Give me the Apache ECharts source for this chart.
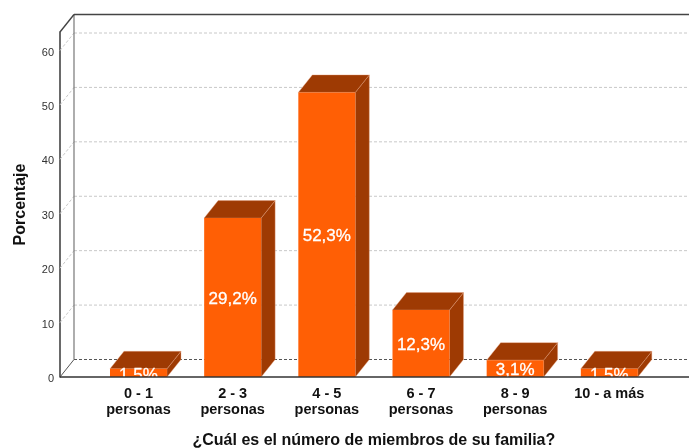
<!DOCTYPE html>
<html><head><meta charset="utf-8">
<style>html,body{margin:0;padding:0;background:#fff}#c{width:689px;height:448px}</style>
<script src="https://cdn.jsdelivr.net/npm/echarts@6/dist/echarts.min.js"></script>
</head><body><div id="c"></div>
<script>
const categories = ['0 - 1\npersonas','2 - 3\npersonas','4 - 5\npersonas','6 - 7\npersonas','8 - 9\npersonas','10 - a más'];
const percentages = [1.5, 29.2, 52.3, 12.3, 3.1, 1.5];
const tickValues = [0, 10, 20, 30, 40, 50, 60];
const xTitle = '¿Cuál es el número de miembros de su familia?';
const yTitle = 'Porcentaje';

const FONT = '"Liberation Sans", Arial, sans-serif';
const DX = 14, DY = -17.5;               // depth of the 3D projection
const G = {left: 91.4, width: 565, top: 32, height: 345};
const FRONT_LEFT = 60, RIGHT = 689, Y_MAX = 63.4;
const FRONT = '#ff5f05', SIDE = '#9e3a03', EDGE = '#e9a583';

function renderWall(params, api) {
  const v = api.value(0);
  const y = api.coord([0, v])[1];
  const dark = v === 0;
  const dash = {stroke: dark ? '#555' : '#c8c8c8', lineWidth: 1, lineDash: [3, 2]};
  return {type: 'group', children: [
    {type: 'line', shape: {x1: FRONT_LEFT + DX, y1: y + DY, x2: RIGHT, y2: y + DY}, style: dash},
    dark ? {type: 'group'} : {type: 'line', shape: {x1: FRONT_LEFT, y1: y, x2: FRONT_LEFT + DX, y2: y + DY}, style: dash}
  ]};
}
function renderFrame(params, api) {
  const y0 = api.coord([0, 0])[1], yT = api.coord([0, Y_MAX])[1];
  const gray = {stroke: '#777', lineWidth: 1.2};
  const dark = {stroke: '#444', lineWidth: 1.4};
  return {type: 'group', children: [
    {type: 'line', shape: {x1: FRONT_LEFT + DX, y1: yT + DY, x2: FRONT_LEFT + DX, y2: y0 + DY}, style: gray},
    {type: 'line', shape: {x1: FRONT_LEFT, y1: y0, x2: FRONT_LEFT + DX, y2: y0 + DY}, style: {stroke: '#555', lineWidth: 1}},
    {type: 'line', shape: {x1: FRONT_LEFT, y1: yT, x2: FRONT_LEFT + DX, y2: yT + DY}, style: dark},
    {type: 'line', shape: {x1: FRONT_LEFT + DX, y1: yT + DY, x2: RIGHT, y2: yT + DY}, style: dark}
  ]};
}
function renderBar(params, api) {
  const c = api.value(0), v = api.value(1);
  const [x, yTop] = api.coord([c, v]);
  const y0 = api.coord([c, 0])[1];
  const w = api.size([1, 0])[0] * 0.605;
  const l = x - w / 2, r = x + w / 2;
  const label = v.toFixed(1).replace('.', ',') + '%';
  return {type: 'group', children: [
    {type: 'polygon', shape: {points: [[r, yTop], [r + DX, yTop + DY], [r + DX, y0 + DY], [r, y0]]}, style: {fill: SIDE, stroke: EDGE, lineWidth: 0.4}},
    {type: 'polygon', shape: {points: [[l, yTop], [l + DX, yTop + DY], [r + DX, yTop + DY], [r, yTop]]}, style: {fill: SIDE, stroke: EDGE, lineWidth: 0.4}},
    {type: 'rect', shape: {x: l, y: yTop, width: w, height: y0 - yTop}, style: {fill: FRONT}},
    {type: 'text', style: {x: x, y: (yTop + y0) / 2 + 2, text: label, align: 'center', verticalAlign: 'middle',
      fill: '#fff', font: '17px ' + FONT, stroke: '#fff', lineWidth: 0.3}}
  ]};
}

const chart = echarts.init(document.getElementById('c'), null, {renderer: 'canvas'});
chart.setOption({
  animation: false,
  backgroundColor: '#fff',
  grid: {left: G.left, top: G.top, width: G.width, height: G.height, outerBoundsMode: 'none', containLabel: false},
  xAxis: {
    type: 'category', data: categories,
    axisLine: {show: false}, axisTick: {show: false},
    axisLabel: {color: '#111', fontFamily: FONT, fontWeight: 'bold', fontSize: 14.5, lineHeight: 16, margin: 9, interval: 0},
    name: xTitle, nameLocation: 'middle', nameGap: 56,
    nameTextStyle: {color: '#111', fontFamily: FONT, fontWeight: 'bold', fontSize: 16}
  },
  yAxis: {
    type: 'value', min: 0, max: Y_MAX, interval: 10, offset: G.left - FRONT_LEFT,
    axisLine: {show: true, onZero: false, lineStyle: {color: '#444', width: 1.6}},
    axisTick: {show: false}, splitLine: {show: false},
    axisLabel: {color: '#333', fontFamily: FONT, fontSize: 11, margin: 6, showMaxLabel: false, verticalAlign: 'top', lineHeight: 4,
      formatter: v => tickValues.includes(v) ? String(v) : ''},
    name: yTitle, nameLocation: 'middle', nameGap: 31,
    nameTextStyle: {color: '#111', fontFamily: FONT, fontWeight: 'bold', fontSize: 16}
  },
  series: [
    {type: 'custom', name: 'wall', clip: false, silent: true, z: 1, data: tickValues.map(v => [v]), encode: {y: 0}, renderItem: renderWall},
    {type: 'custom', name: 'frame', clip: false, silent: true, z: 2, data: [[0]], renderItem: renderFrame},
    {type: 'custom', name: 'Porcentaje', clip: true, z: 3, data: percentages.map((v, i) => [i, v]), encode: {x: 0, y: 1}, renderItem: renderBar},
    {type: 'custom', name: 'baseline', clip: false, silent: true, z: 4, data: [[0]], renderItem: (p, api) => {
      const y0 = api.coord([0, 0])[1];
      return {type: 'line', shape: {x1: FRONT_LEFT, y1: y0, x2: RIGHT, y2: y0}, style: {stroke: '#333', lineWidth: 1.4}};
    }}
  ]
});
</script></body></html>
